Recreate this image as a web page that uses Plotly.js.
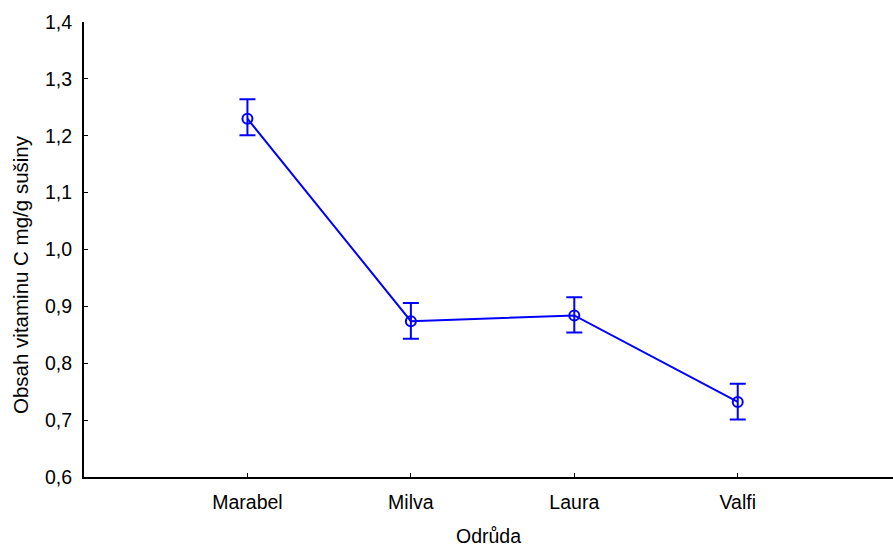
<!DOCTYPE html>
<html>
<head>
<meta charset="utf-8">
<script src="https://cdn.plot.ly/plotly-3.0.1.min.js"></script>
<style>html,body{margin:0;padding:0;background:#fff;}#chart{width:893px;height:547px;}</style>
</head>
<body>
<div id="chart"></div>
<script>
const categories = ["Marabel", "Milva", "Laura", "Valfi"];
const means = [1.230, 0.874, 0.884, 0.732];
const errUpper = [0.034, 0.032, 0.032, 0.032];
const errLower = [0.029, 0.031, 0.030, 0.031];
const yTicks = [0.6, 0.7, 0.8, 0.9, 1.0, 1.1, 1.2, 1.3, 1.4];
const yTickLabels = ["0,6", "0,7", "0,8", "0,9", "1,0", "1,1", "1,2", "1,3", "1,4"];
const yTitle = "Obsah vitaminu C mg/g sušiny";
const xTitle = "Odrůda";

const xIdx = categories.map((_, i) => i);

const trace = {
  x: xIdx,
  y: means,
  type: "scatter",
  mode: "lines+markers",
  line: {color: "#0000ff", width: 2},
  marker: {symbol: "circle-open", size: 10, color: "#0000ff", line: {width: 2, color: "#0000ff"}},
  error_y: {type: "data", symmetric: false, array: errUpper, arrayminus: errLower, color: "#0000ff", thickness: 2, width: 8},
  showlegend: false,
  hoverinfo: "x+y"
};

const layout = {
  width: 893, height: 547,
  margin: {l: 84, r: 0, t: 22, b: 70},
  paper_bgcolor: "#fff", plot_bgcolor: "#fff",
  separators: ", ",
  font: {family: "Liberation Sans, Arial, sans-serif", size: 19.5, color: "#000"},
  xaxis: {
    range: [-1, 3.95],
    tickvals: xIdx, ticktext: categories,
    ticks: "inside", ticklen: 4, tickwidth: 1, tickcolor: "#000",
    showline: true, linecolor: "#000", linewidth: 2,
    showgrid: false, zeroline: false,
    ticklabelstandoff: 7,
    title: {text: xTitle, font: {size: 19.5}, standoff: 22},
    tickfont: {size: 19.5}
  },
  yaxis: {
    range: [0.6, 1.4],
    tickvals: yTicks, ticktext: yTickLabels,
    ticks: "inside", ticklen: 4, tickwidth: 1, tickcolor: "#000",
    showline: true, linecolor: "#000", linewidth: 2,
    showgrid: false, zeroline: false,
    ticklabelstandoff: 6,
    tickfont: {size: 19.5}
  },
  annotations: [{
    text: yTitle, textangle: -90, showarrow: false,
    xref: "paper", yref: "paper",
    x: -64 / 809, y: (477 - 275) / 455,
    xanchor: "center", yanchor: "middle",
    font: {size: 20.5, color: "#000"}
  }]
};

Plotly.newPlot("chart", [trace], layout, {displayModeBar: false, staticPlot: true});
</script>
</body>
</html>
